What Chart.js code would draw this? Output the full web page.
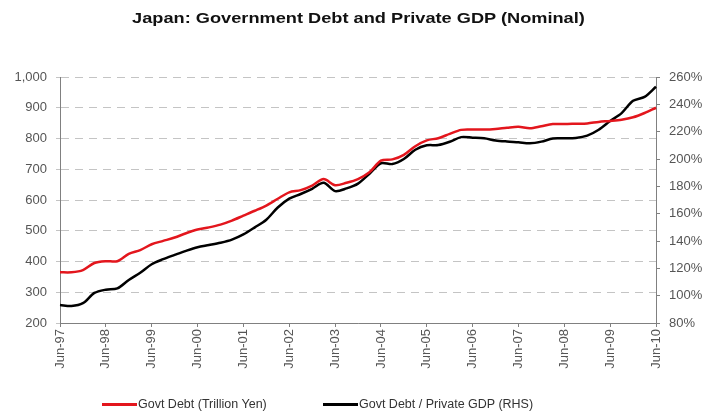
<!DOCTYPE html>
<html>
<head>
<meta charset="utf-8">
<script src="https://cdn.jsdelivr.net/npm/chart.js@4.4.1/dist/chart.umd.min.js"></script>
<style>
  body { margin: 0; background: #fff; }
  #wrap { position: relative; width: 705px; height: 415px; font-family: "Liberation Sans", Arial, sans-serif; }
  #title { position: absolute; left: 0; top: 10px; width: 717px; text-align: center; font-weight: bold; font-size: 14px; color: #111; transform: scaleX(1.3); }
  .leg { position: absolute; top: 397px; font-size: 12.5px; color: #333; white-space: nowrap; }
  .leg i { display: inline-block; width: 35px; height: 3px; vertical-align: middle; margin-right: 1px; }
</style>
</head>
<body>
<div id="wrap">
  <canvas id="mycanvas" width="705" height="415"></canvas>
  <div id="title">Japan: Government Debt and Private GDP (Nominal)</div>
  <div class="leg" style="left:102px"><i style="background:#e3161d"></i>Govt Debt (Trillion Yen)</div>
  <div class="leg" style="left:323px"><i style="background:#000"></i>Govt Debt / Private GDP (RHS)</div>
</div>
<script>
var quarters = [
	'Jun-97','Sep-97','Dec-97','Mar-98','Jun-98','Sep-98','Dec-98','Mar-99',
	'Jun-99','Sep-99','Dec-99','Mar-00','Jun-00','Sep-00','Dec-00','Mar-01',
	'Jun-01','Sep-01','Dec-01','Mar-02','Jun-02','Sep-02','Dec-02','Mar-03',
	'Jun-03','Sep-03','Dec-03','Mar-04','Jun-04','Sep-04','Dec-04','Mar-05',
	'Jun-05','Sep-05','Dec-05','Mar-06','Jun-06','Sep-06','Dec-06','Mar-07',
	'Jun-07','Sep-07','Dec-07','Mar-08','Jun-08','Sep-08','Dec-08','Mar-09',
	'Jun-09','Sep-09','Dec-09','Mar-10','Jun-10'
];

// trillion yen, left axis
var govtDebt = [
	365,365,372,395,401,401,425,437,456,467,478,492,504,511,520,533,
	549,565,582,604,625,632,647,668,648,656,668,690,728,732,747,775,
	794,801,815,828,829,829,831,835,838,833,840,847,847,848,849,854,
	857,861,869,883,900
];

// % of private GDP, right axis
var debtToGdp = [
	93.2,92.4,94.5,102,104.4,105.3,111.5,116.8,123,126.7,129.8,132.8,135.4,137,138.7,141,
	144.8,150,155.6,164.5,171,174.4,178.2,182.6,176.5,178.5,182,189.2,196.9,196.3,200,206.8,
	210,210.2,212.6,216,215.6,215.1,213.6,212.8,212.2,211.5,212.7,215,215.1,215.4,217.1,221.4,
	227.8,233.6,242.6,245.5,252.9
];

var leftTicks = [200,300,400,500,600,700,800,900,1000];
var rightTicks = [80,100,120,140,160,180,200,220,240,260];

var tickFont = { family: '"Liberation Sans", Arial, sans-serif', size: 13 };
var tickColor = '#555';

var ctx = document.getElementById('mycanvas');
var chart = new Chart(ctx, {
	type: 'line',
	data: {
		labels: quarters,
		datasets: [
			{
				label: 'Govt Debt (Trillion Yen)',
				data: govtDebt,
				yAxisID: 'y',
				borderColor: '#e3161d',
				borderWidth: 2.5,
				pointRadius: 0,
				tension: 0.3
			},
			{
				label: 'Govt Debt / Private GDP (RHS)',
				data: debtToGdp,
				yAxisID: 'y1',
				borderColor: '#000',
				borderWidth: 2.5,
				pointRadius: 0,
				tension: 0.3
			}
		]
	},
	options: {
		responsive: false,
		devicePixelRatio: 1,
		animation: false,
		layout: { padding: { top: 77, bottom: 42, left: 0, right: 0 } },
		plugins: { legend: { display: false }, title: { display: false }, tooltip: { enabled: false } },
		scales: {
			x: {
				offset: false,
				grid: {
					drawOnChartArea: false,
					tickLength: 4,
					color: function(c) { return (quarters[c.index] || '').indexOf('Jun') === 0 ? '#808080' : 'rgba(0,0,0,0)'; }
				},
				border: { color: '#808080' },
				ticks: {
					autoSkip: false,
					minRotation: 90,
					maxRotation: 90,
					padding: 2,
					font: tickFont,
					color: tickColor,
					callback: function(v) {
						var lab = this.getLabelForValue(v);
						return lab.indexOf('Jun') === 0 ? lab : '';
					}
				},
				afterFit: function(s) { s.height = 50; }
			},
			y: {
				position: 'left',
				min: 200,
				max: 1000,
				afterBuildTicks: function(s) { s.ticks = leftTicks.map(function(v) { return { value: v }; }); },
				grid: { color: '#c4c4c4', tickLength: 4 },
				border: { color: '#808080', dash: [8, 6] },
				ticks: {
					padding: 9,
					font: tickFont,
					color: tickColor,
					callback: function(v) { return v.toLocaleString('en-US'); }
				},
				afterFit: function(s) { s.width = 60; }
			},
			y1: {
				position: 'right',
				min: 80,
				max: 260,
				afterBuildTicks: function(s) { s.ticks = rightTicks.map(function(v) { return { value: v }; }); },
				grid: { drawOnChartArea: false, color: '#808080', tickLength: 4 },
				border: { color: '#808080' },
				ticks: {
					padding: 9,
					font: tickFont,
					color: tickColor,
					callback: function(v) { return v + '%'; }
				},
				afterFit: function(s) { s.width = 49; }
			}
		}
	}
});
</script>
</body>
</html>
